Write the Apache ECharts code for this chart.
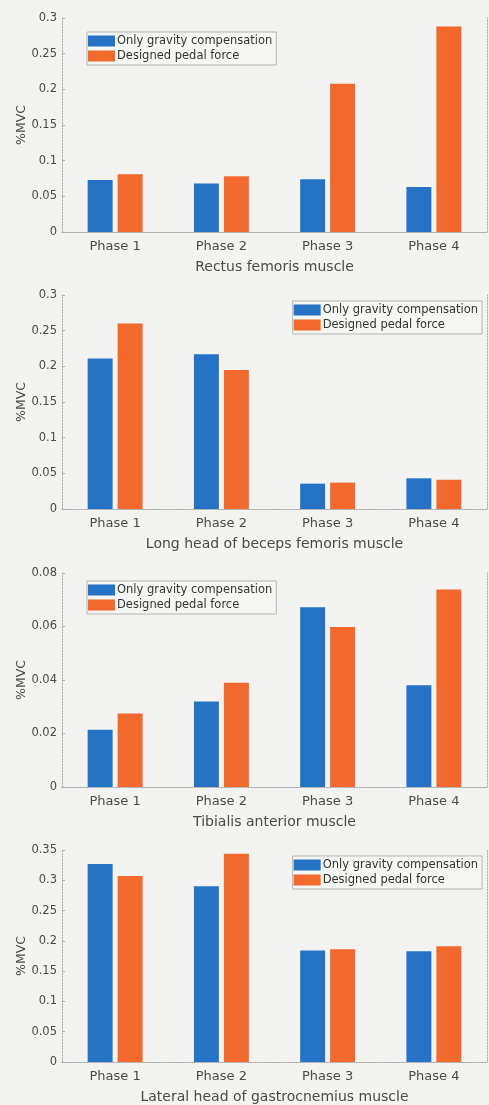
<!DOCTYPE html>
<html>
<head>
<meta charset="utf-8">
<script src="https://cdn.jsdelivr.net/npm/echarts@6/dist/echarts.min.js"></script>
<style>
html,body{margin:0;padding:0;background:#f3f3f1;}
#main{width:489px;height:1105px;}
</style>
</head>
<body>
<div id="main"></div>
<script>
// ---- data ----
const categories = ['Phase 1', 'Phase 2', 'Phase 3', 'Phase 4'];
const seriesNames = ['Only gravity compensation', 'Designed pedal force'];
const panelTitles = ['Rectus femoris muscle', 'Long head of beceps femoris muscle', 'Tibialis anterior muscle', 'Lateral head of gastrocnemius muscle'];
const rectusGravity = [0.073, 0.068, 0.074, 0.063];
const rectusPedal = [0.081, 0.078, 0.208, 0.288];
const bicepsGravity = [0.211, 0.217, 0.0355, 0.043];
const bicepsPedal = [0.260, 0.195, 0.037, 0.041];
const tibialisGravity = [0.0214, 0.032, 0.0672, 0.038];
const tibialisPedal = [0.0275, 0.039, 0.0598, 0.0738];
const gastroGravity = [0.327, 0.290, 0.184, 0.183];
const gastroPedal = [0.307, 0.344, 0.186, 0.191];
const yMax = [0.3, 0.3, 0.08, 0.35];
const yStep = [0.05, 0.05, 0.02, 0.05];

const gravitySets = [rectusGravity, bicepsGravity, tibialisGravity, gastroGravity];
const pedalSets = [rectusPedal, bicepsPedal, tibialisPedal, gastroPedal];

// ---- layout / style ----
const FONT = 'DejaVu Sans';
const BLUE = '#2473c6';
const ORANGE = '#f2692b';
const FRAME = '#adadad';
const TEXT = '#4a4a4a';
const gridTops = [18, 295, 573, 850];
const gridH = 214;
const legendPos = [
  {left: 87, top: 32},
  {right: 7, top: 301},
  {left: 87, top: 581},
  {right: 7, top: 856}
];

const grids = [], xAxes = [], yAxes = [], series = [], legends = [];
for (let i = 0; i < 4; i++) {
  grids.push({left: 62, right: 2, top: gridTops[i], height: gridH});
  const dotted = {show: true, lineStyle: {color: FRAME, type: [1.5, 1.5], width: 1}};
  xAxes.push({
    type: 'category', gridIndex: i, data: categories, position: 'bottom',
    axisLine: dotted, axisTick: {show: false},
    axisLabel: {fontFamily: FONT, fontSize: 13, color: TEXT, margin: 8},
    name: panelTitles[i], nameLocation: 'middle', nameGap: 28, nameMoveOverlap: false,
    nameTextStyle: {fontFamily: FONT, fontSize: 14, color: TEXT}
  });
  xAxes.push({
    type: 'category', gridIndex: i, data: categories, position: 'top',
    axisLine: dotted, axisTick: {show: false}, axisLabel: {show: false}
  });
  yAxes.push({
    type: 'value', gridIndex: i, min: 0, max: yMax[i], interval: yStep[i], position: 'left',
    axisLine: dotted, axisTick: {show: true, inside: true, length: 3, lineStyle: {color: FRAME}},
    splitLine: {show: false},
    axisLabel: {fontFamily: FONT, fontSize: 11.5, color: TEXT, margin: 5},
    name: '%MVC', nameLocation: 'middle', nameGap: 34, nameMoveOverlap: false,
    nameTextStyle: {fontFamily: FONT, fontSize: 12.5, color: TEXT}
  });
  yAxes.push({
    type: 'value', gridIndex: i, min: 0, max: yMax[i], interval: yStep[i], position: 'right',
    axisLine: dotted, axisTick: {show: false}, axisLabel: {show: false}, splitLine: {show: false}
  });
  series.push({
    name: seriesNames[0], type: 'bar', xAxisIndex: 2 * i, yAxisIndex: 2 * i,
    data: gravitySets[i], barWidth: '23.5%', barGap: '20%',
    itemStyle: {color: BLUE}
  });
  series.push({
    name: seriesNames[1], type: 'bar', xAxisIndex: 2 * i, yAxisIndex: 2 * i,
    data: pedalSets[i], barWidth: '23.5%', barGap: '20%',
    itemStyle: {color: ORANGE}
  });
  legends.push(Object.assign({
    orient: 'vertical', data: seriesNames, icon: 'rect',
    itemWidth: 27, itemHeight: 11, itemGap: 3,
    padding: [3, 4, 3, 1],
    borderColor: '#b5b5b5', borderWidth: 1,
    backgroundColor: '#f6f6f4',
    selectedMode: false,
    textStyle: {fontFamily: FONT, fontSize: 11.5, color: '#333', padding: [0, 0, 0, -3]}
  }, legendPos[i]));
}

const chart = echarts.init(document.getElementById('main'), null, {renderer: 'canvas'});
chart.setOption({
  animation: false,
  backgroundColor: '#f3f3f1',
  grid: grids,
  xAxis: xAxes,
  yAxis: yAxes,
  legend: legends,
  series: series
});
</script>
</body>
</html>
